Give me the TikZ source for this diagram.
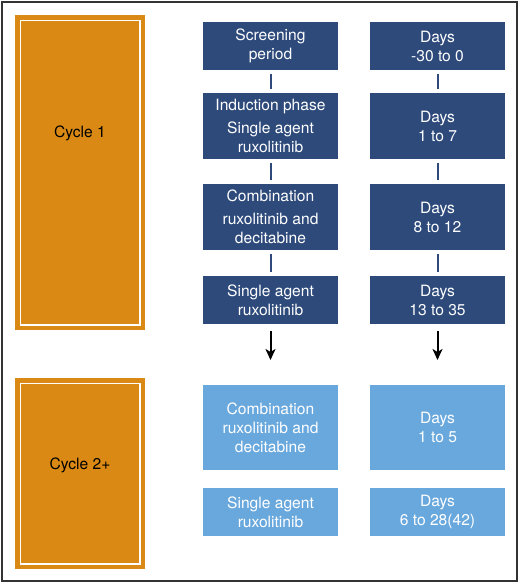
\documentclass[tikz,border=0pt]{standalone}
\usepackage{fontspec}
\setmainfont{TeX Gyre Heros}
\usetikzlibrary{arrows.meta}
\definecolor{cycorange}{HTML}{DA8A14}
\definecolor{darkblue}{HTML}{2D4A7B}
\definecolor{lightblue}{HTML}{69A8DD}
\tikzset{
  box/.style={rectangle, inner sep=0pt, minimum width=135pt, align=center,
    text=white, font=\fontsize{15.6}{19}\selectfont},
  dbox/.style={box, fill=darkblue},
  lbox/.style={box, fill=lightblue},
  cycbox/.style={rectangle, inner sep=0pt, fill=cycorange, minimum width=130pt},
  link/.style={darkblue, line width=2pt, shorten <=4pt, shorten >=4pt},
  arr/.style={-{Stealth[length=11pt,width=10pt,inset=3pt]}, line width=2pt, shorten <=7pt}
}
\begin{document}
\begin{tikzpicture}[x=1pt,y=-1pt]
\useasboundingbox (0,0) rectangle (520,584);
\draw[line width=2pt, black!80] (2,2) rectangle (517,581);
% cycles
\node[cycbox, minimum height=315pt] (cyc1) at (80,172.5) {};
\node[cycbox, minimum height=191pt] (cyc2) at (80,473.5) {};
\foreach \c in {cyc1,cyc2}
  \draw[white, line width=1.6pt] ([shift={(5.5pt,5.5pt)}]\c.south west) rectangle ([shift={(-5.5pt,-5.5pt)}]\c.north east);
\node[font=\fontsize{15.6}{19}\selectfont] (cyc1txt) at (80,133) {Cycle 1};
\node[font=\fontsize{15.6}{19}\selectfont] (cyc2txt) at (80,465) {Cycle 2+};
% first cycle
\node[dbox, minimum height=48pt] (p1) at (270.5,46) {Screening\\period};
\node[dbox, minimum height=66pt] (p2) at (270.5,126) {Induction phase\\[4pt]Single agent\\ruxolitinib};
\node[dbox, minimum height=66pt] (p3) at (270.5,217) {Combination\\[4pt]ruxolitinib and\\decitabine};
\node[dbox, minimum height=48pt] (p4) at (270.5,300) {Single agent\\ruxolitinib};
\node[dbox, minimum height=48pt] (d1) at (437.5,46) {Days\\-30 to 0};
\node[dbox, minimum height=66pt] (d2) at (437.5,126) {Days\\1 to 7};
\node[dbox, minimum height=66pt] (d3) at (437.5,217) {Days\\8 to 12};
\node[dbox, minimum height=48pt] (d4) at (437.5,300) {Days\\13 to 35};
\draw[link] (p1) -- (p2);
\draw[link] (p2) -- (p3);
\draw[link] (p3) -- (p4);
\draw[link] (d1) -- (d2);
\draw[link] (d2) -- (d3);
\draw[link] (d3) -- (d4);
\coordinate (pend) at (270.5,360);
\coordinate (dend) at (437.5,360);
\draw[arr] (p4) -- (pend);
\draw[arr] (d4) -- (dend);
% next cycles
\node[lbox, minimum height=85pt] (q1) at (270.5,427.5) {Combination\\ruxolitinib and\\decitabine};
\node[lbox, minimum height=48pt] (q2) at (270.5,512) {Single agent\\ruxolitinib};
\node[lbox, minimum height=85pt] (e1) at (437.5,427.5) {Days\\1 to 5};
\node[lbox, minimum height=48pt] (e2) at (437.5,512) {Days\\6 to 28(42)};
\end{tikzpicture}
\end{document}
